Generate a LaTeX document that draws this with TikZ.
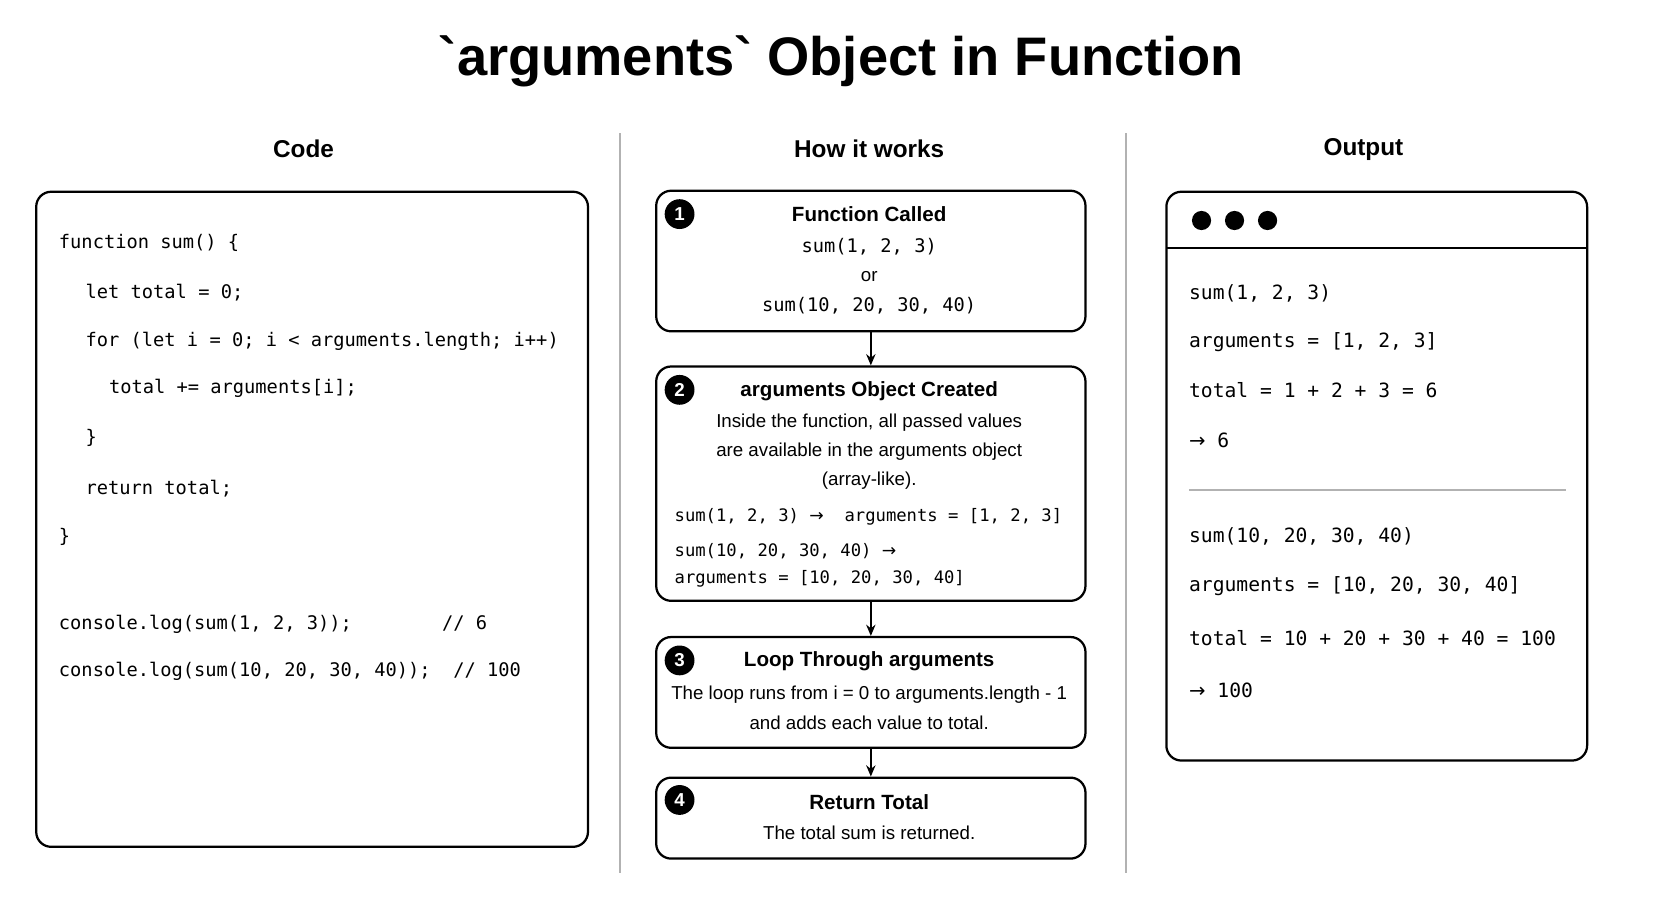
\documentclass[tikz,border=0pt]{standalone}
\usepackage{fontspec}
\setmainfont{Liberation Sans}
\setsansfont{Liberation Sans}
\setmonofont{DejaVu Sans Mono}
\newfontfamily\symfont{DejaVu Sans}
\usetikzlibrary{positioning,arrows.meta}

\begin{document}
\begin{tikzpicture}[
    x=0.02cm, y=-0.02cm,
    panel/.style={draw, line width=1.2pt, rounded corners=8pt},
    stepbox/.style={draw, line width=1.2pt, rounded corners=8pt, minimum width=403*0.02cm, anchor=north west},
    heading/.style={font=\fontsize{13}{15}\selectfont\bfseries},
    code/.style={anchor=west, inner sep=0pt, font=\ttfamily\fontsize{10.5}{12}\selectfont},
    src/.style={code, font=\ttfamily\fontsize{10}{12}\selectfont},
    stxt/.style={inner sep=0pt, font=\fontsize{10}{12}\selectfont},
    stitle/.style={inner sep=0pt, font=\fontsize{11}{13}\selectfont\bfseries},
    badge/.style={circle, fill=black, text=white, inner sep=0pt, minimum size=0.56cm, font=\fontsize{10}{12}\selectfont\bfseries},
    flow/.style={-{Stealth[length=6pt,width=5pt]}, line width=0.9pt}
]
\useasboundingbox (0,0) rectangle (1565,859);

% Title and column headings
\node[font=\fontsize{29}{34}\selectfont\bfseries] (title) at (790,58) {\textasciigrave arguments\textasciigrave\ Object in Function};
\node[heading] (hcode) at (285,140) {Code};
\node[heading] (hhow) at (816,140) {How it works};
\node[heading] (hout) at (1280,140) {Output};
\draw[gray!60, line width=0.8pt] (582,125) -- (582,820);
\draw[gray!60, line width=0.8pt] (1057,125) -- (1057,820);

% Code panel
\draw[panel] (34,180) rectangle (552,795);
\node[src] (c1) at (55,228) {function sum() \{};
\node[src] (c2) at (80,275) {let total = 0;};
\node[src] (c3) at (80,320) {for (let i = 0; i < arguments.length; i++)};
\node[src] (c4) at (102,365) {total += arguments[i];};
\node[src] (c5) at (80,411) {\}};
\node[src] (c6) at (80,459) {return total;};
\node[src] (c7) at (55,504) {\}};
\node[src] (c8) at (55,586) {console.log(sum(1, 2, 3));\ \ \ \ \ \ \ \ // 6};
\node[src] (c9) at (55,630) {console.log(sum(10, 20, 30, 40));\ \ // 100};

% Steps
\node[stepbox, minimum height=132*0.02cm] (s1) at (615,178) {};
\node[stepbox, minimum height=220*0.02cm] (s2) at (615,343) {};
\node[stepbox, minimum height=104*0.02cm] (s3) at (615,597) {};
\node[stepbox, minimum height=76*0.02cm] (s4) at (615,729) {};

\node[badge] (b1) at (638,201) {1};
\node[badge] (b2) at (638,366) {2};
\node[badge] (b3) at (638,620) {3};
\node[badge] (b4) at (638,751) {4};

\node[stitle] at (816,201) {Function Called};
\node[stxt, font=\ttfamily\fontsize{10}{12}\selectfont] at (816,232) {sum(1, 2, 3)};
\node[stxt] at (816,260) {or};
\node[stxt, font=\ttfamily\fontsize{10}{12}\selectfont] at (816,287) {sum(10, 20, 30, 40)};

\node[stitle] at (816,367) {arguments Object Created};
\node[stxt] at (816,397) {Inside the function, all passed values};
\node[stxt] at (816,424) {are available in the arguments object};
\node[stxt] at (816,451) {(array-like).};
\node[code, font=\ttfamily\fontsize{9.2}{11}\selectfont] at (633,485) {sum(1, 2, 3) {\symfont→}\ \ arguments = [1, 2, 3]};
\node[code, font=\ttfamily\fontsize{9.2}{11}\selectfont] at (633,517) {sum(10, 20, 30, 40) {\symfont→}};
\node[code, font=\ttfamily\fontsize{9.2}{11}\selectfont] at (633,543) {arguments = [10, 20, 30, 40]};

\node[stitle] at (816,621) {Loop Through arguments};
\node[stxt] at (816,652) {The loop runs from i = 0 to arguments.length - 1};
\node[stxt] at (816,679) {and adds each value to total.};

\node[stitle] at (816,753) {Return Total};
\node[stxt] at (816,782) {The total sum is returned.};

\draw[flow] (s1.south) -- (s2.north);
\draw[flow] (s2.south) -- (s3.north);
\draw[flow] (s3.south) -- (s4.north);

% Output panel
\draw[panel] (1095,180) rectangle (1490,714);
\draw[line width=1.2pt] (1095,233) -- (1490,233);
\foreach \dx in {1128,1159,1190} \fill (\dx,207) circle (0.18cm);
\node[code] (o1) at (1116,275) {sum(1, 2, 3)};
\node[code] (o2) at (1116,321) {arguments = [1, 2, 3]};
\node[code] (o3) at (1116,366) {total = 1 + 2 + 3 = 6};
\node[code] (o4) at (1116,413) {{\symfont→} 6};
\draw[gray!60, line width=0.8pt] (1116,460) -- (1470,460);
\node[code] (o5) at (1116,504) {sum(10, 20, 30, 40)};
\node[code] (o6) at (1116,550) {arguments = [10, 20, 30, 40]};
\node[code] (o7) at (1116,599) {total = 10 + 20 + 30 + 40 = 100};
\node[code] (o8) at (1116,648) {{\symfont→} 100};
\end{tikzpicture}
\end{document}
